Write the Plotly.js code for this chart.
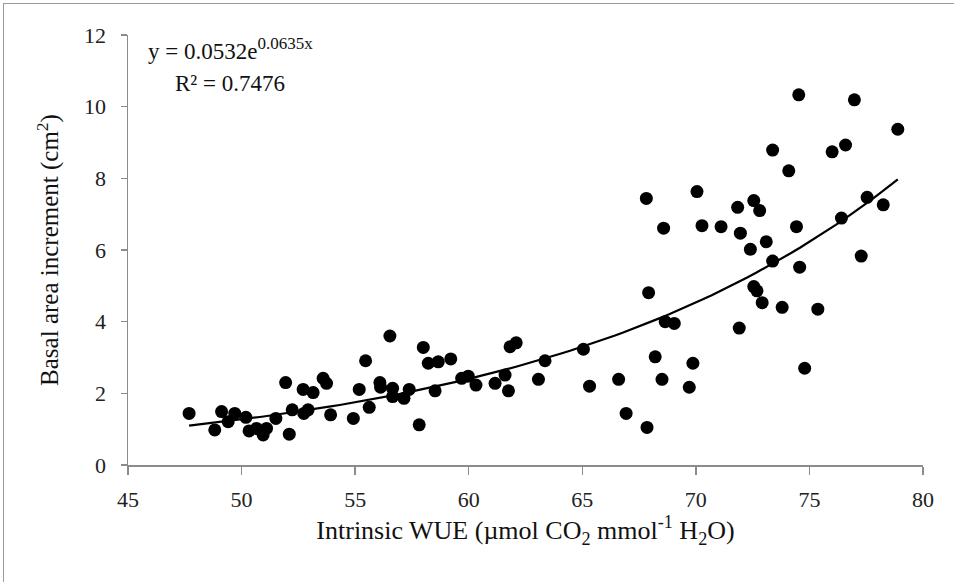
<!DOCTYPE html>
<html>
<head>
<meta charset="utf-8">
<script src="https://cdn.plot.ly/plotly-3.0.1.min.js"></script>
<style>
html,body{margin:0;padding:0;background:#fff;}
#wrap{position:relative;width:954px;height:582px;overflow:hidden;}
#frame{position:absolute;left:3px;top:3px;width:1000px;height:700px;border-top:1px solid #9a9a9a;border-left:1px solid #9a9a9a;pointer-events:none;z-index:5;}
#chart{position:absolute;left:0;top:0;width:954px;height:582px;}
</style>
</head>
<body>
<div id="wrap"><div id="chart"></div><div id="frame"></div></div>
<script>
// Intrinsic WUE (x) and basal area increment (y)
const wue = [47.69,48.82,49.12,49.41,49.70,50.19,50.33,50.66,50.95,51.10,
  51.51,51.94,52.10,52.23,52.71,52.74,52.93,53.15,53.59,53.74,
  53.92,54.92,55.18,55.46,55.62,56.09,56.12,56.53,56.65,56.65,
  57.15,57.38,57.82,58.00,58.22,58.52,58.66,59.21,59.69,59.98,
  60.32,61.16,61.60,61.75,61.82,62.09,63.07,63.36,65.05,65.32,
  66.60,66.93,67.85,68.21,68.51,68.65,69.05,67.92,69.87,69.71,
  71.91,72.92,73.80,75.37,74.79,72.55,72.69,74.53,76.98,78.89,
  73.38,76.00,76.59,74.09,67.82,70.05,72.55,71.84,72.81,77.54,
  78.25,68.58,70.27,71.11,71.96,74.43,76.41,73.10,72.40,73.38,
  74.57,77.28];
const bai = [1.44,0.98,1.49,1.21,1.44,1.33,0.95,1.02,0.84,1.02,
  1.30,2.30,0.86,1.54,2.11,1.44,1.54,2.02,2.42,2.28,
  1.40,1.30,2.11,2.91,1.61,2.30,2.17,3.60,2.14,1.91,
  1.86,2.11,1.12,3.28,2.84,2.07,2.88,2.96,2.42,2.48,
  2.23,2.28,2.51,2.07,3.30,3.41,2.39,2.91,3.23,2.20,
  2.39,1.44,1.05,3.02,2.39,4.00,3.95,4.81,2.84,2.17,
  3.82,4.53,4.40,4.35,2.70,4.98,4.86,10.33,10.19,9.37,
  8.79,8.74,8.93,8.21,7.44,7.63,7.38,7.19,7.10,7.47,
  7.26,6.61,6.68,6.65,6.47,6.65,6.89,6.23,6.02,5.69,
  5.52,5.83];
// Exponential trendline from the equation shown on the chart
const fitA = 0.0532;
const fitB = 0.0635;
const fitRange = [47.69, 78.89];
const xTicks = [45,50,55,60,65,70,75,80];
const yTicks = [0,2,4,6,8,10,12];

const fitX = [], fitY = [];
const nFit = 80;
for (let i = 0; i <= nFit; i++) {
  const x = fitRange[0] + (fitRange[1] - fitRange[0]) * i / nFit;
  fitX.push(x);
  fitY.push(fitA * Math.exp(fitB * x));
}

const font = 'Liberation Serif, Times New Roman, serif';
const traces = [
  {x: wue, y: bai, type: 'scatter', mode: 'markers',
   marker: {color: '#000', size: 13, line: {width: 0}}, hoverinfo: 'x+y'},
  {x: fitX, y: fitY, type: 'scatter', mode: 'lines',
   line: {color: '#000', width: 2.2}, hoverinfo: 'skip'}
];
const layout = {
  width: 954, height: 582,
  margin: {l: 128, r: 31, t: 35, b: 117, pad: 0},
  paper_bgcolor: '#fff', plot_bgcolor: '#fff',
  showlegend: false,
  font: {family: font, color: '#222'},
  xaxis: {
    range: [45, 80], tickvals: xTicks, ticktext: xTicks.map(String),
    showgrid: false, zeroline: false, showline: true, linecolor: '#8c8c8c', linewidth: 1.5,
    ticks: 'outside', ticklen: 8, tickcolor: '#8c8c8c', tickwidth: 1.3,
    tickfont: {family: font, size: 22, color: '#222'}, ticklabelstandoff: 6,
    title: {text: 'Intrinsic WUE (µmol CO<sub>2</sub> mmol<sup>-1</sup> H<sub>2</sub>O)',
            font: {family: font, size: 26, color: '#111'}, standoff: 10}
  },
  yaxis: {
    range: [0, 12], tickvals: yTicks, ticktext: yTicks.map(String),
    showgrid: false, zeroline: false, showline: true, linecolor: '#8c8c8c', linewidth: 1.5,
    ticks: 'outside', ticklen: 6, tickcolor: '#8c8c8c', tickwidth: 1.3,
    tickfont: {family: font, size: 22, color: '#222'}, ticklabelstandoff: 10,
    title: {text: 'Basal area increment (cm<sup>2</sup>)',
            font: {family: font, size: 25, color: '#111'}, standoff: 18}
  },
  annotations: [
    {x: 45.8, y: 11.62, xref: 'x', yref: 'y', xanchor: 'left', yanchor: 'middle', showarrow: false,
     text: 'y = 0.0532e<sup><span style="font-size:17px">0.0635x</span></sup>', font: {family: font, size: 23, color: '#111'}},
    {x: 47.0, y: 10.66, xref: 'x', yref: 'y', xanchor: 'left', yanchor: 'middle', showarrow: false,
     text: 'R² = 0.7476', font: {family: font, size: 23, color: '#111'}}
  ]
};
Plotly.newPlot('chart', traces, layout, {displayModeBar: false, staticPlot: true});
</script>
</body>
</html>
